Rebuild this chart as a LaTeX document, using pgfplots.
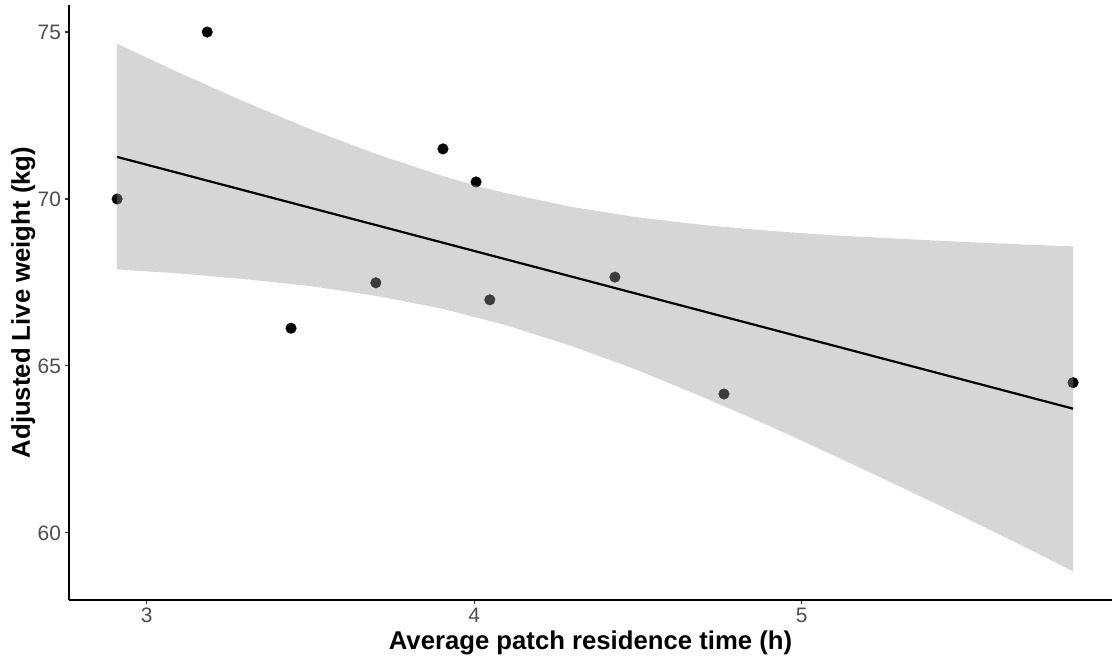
\documentclass[border=0pt]{standalone}
\usepackage{fontspec}
\setmainfont{Liberation Sans}
\usepackage{pgfplots}
\pgfplotsset{compat=1.18}
\definecolor{ticklab}{HTML}{4D4D4D}
\definecolor{tickcol}{HTML}{333333}
\definecolor{bandcol}{HTML}{999999}
\begin{document}
\begin{tikzpicture}
\useasboundingbox (0,0) rectangle (1112bp,660bp);
\begin{axis}[
  at={(69bp,60bp)}, anchor=south west,
  scale only axis, width=1043bp, height=595bp,
  xmin=2.763, xmax=5.948, ymin=57.99, ymax=75.81,
  clip marker paths=true,
  axis x line*=bottom, axis y line*=left,
  axis line style={line width=1.1bp, black, -},
  xtick={3,4,5}, ytick={60,65,70,75},
  tick align=outside, major tick length=4.5bp,
  tick style={tickcol, line width=1.1bp},
  ticklabel style={font=\fontsize{21}{25}\selectfont, text=ticklab},
  /pgf/number format/assume math mode=true,
  xlabel={Average patch residence time (h)},
  ylabel={Adjusted Live weight (kg)},
  label style={font=\fontsize{25.8}{30}\selectfont\bfseries},
  xlabel style={at={(axis description cs:0.5,-0.0824)}, anchor=base},
  ylabel style={at={(axis description cs:-0.0374,0.5)}, anchor=base},
]
\addplot[only marks, mark=*, mark size=5.3bp, mark options={fill=black, draw=none}] table {
x y
2.910 70.00
3.185 75.00
3.441 66.13
3.700 67.49
3.905 71.50
4.006 70.51
4.048 66.98
4.430 67.66
4.763 64.16
5.829 64.50
};
\addplot[fill=bandcol, fill opacity=0.4, draw=none] coordinates {
(2.910,74.65) (3.1,73.78) (3.3,72.91) (3.5,72.09) (3.7,71.35) (3.9,70.70)
(4.02,70.36) (4.1,70.17) (4.3,69.76) (4.5,69.45) (4.7,69.22) (4.9,69.05)
(5.1,68.91) (5.3,68.81) (5.5,68.71) (5.7,68.63) (5.829,68.58)
(5.829,58.84) (5.7,59.49) (5.5,60.45) (5.3,61.39) (5.1,62.31) (4.9,63.21)
(4.7,64.06) (4.5,64.87) (4.3,65.59) (4.1,66.21) (4.02,66.42) (3.9,66.72)
(3.7,67.10) (3.5,67.39) (3.3,67.60) (3.1,67.77) (2.910,67.89)
};
\addplot[black, line width=2.2bp] coordinates {(2.910,71.26) (5.829,63.72)};
\end{axis}
\end{tikzpicture}
\end{document}
